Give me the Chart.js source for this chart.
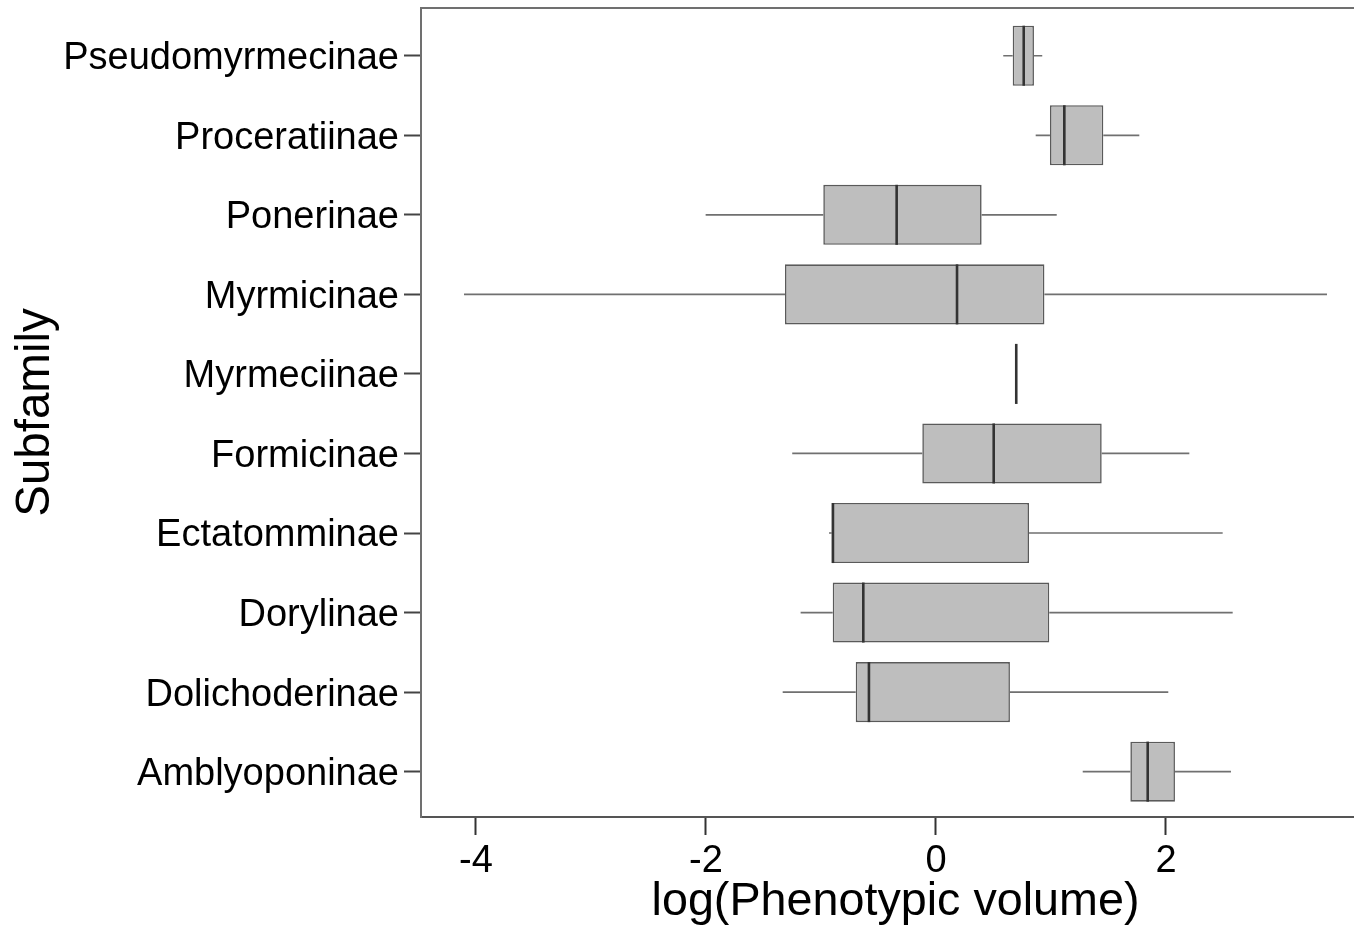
<!DOCTYPE html>
<html>
<head>
<meta charset="utf-8">
<title>Phenotypic volume by subfamily</title>
<script src="https://cdn.jsdelivr.net/npm/chart.js@4.4.1/dist/chart.umd.min.js"></script>
<style>
  html, body { margin: 0; padding: 0; background: #fff; overflow: hidden; }
  #wrap { width: 1354px; height: 930px; overflow: hidden; }
</style>
</head>
<body>
<div id="wrap"><canvas id="boxChart" width="1370" height="930"></canvas></div>
<script>
// subfamilies, top to bottom
const subfamilies = ['Pseudomyrmecinae', 'Proceratiinae', 'Ponerinae', 'Myrmicinae', 'Myrmeciinae',
  'Formicinae', 'Ectatomminae', 'Dorylinae', 'Dolichoderinae', 'Amblyoponinae'];

// five-number summaries of log(phenotypic volume)
const whiskerLow  = [0.585, 0.867, -2.003, -4.104, 0.698, -1.250, -0.930, -1.177, -1.333, 1.276];
const quart1      = [0.667, 0.991, -0.980, -1.313, 0.698, -0.119, -0.907, -0.898, -0.698, 1.690];
const medians     = [0.763, 1.116, -0.342,  0.183, 0.698,  0.502, -0.896, -0.632, -0.583, 1.841];
const quart3      = [0.852, 1.455,  0.397,  0.943, 0.698,  1.441,  0.809,  0.985,  0.643, 2.078];
const whiskerHigh = [0.924, 1.768,  1.050,  3.400, 0.698,  2.203,  2.493,  2.580,  2.020, 2.565];

const xTicks = [-4, -2, 0, 2];

const FONT = '"Liberation Sans", Arial, Helvetica, sans-serif';

// whiskers behind the boxes, medians on top, plus the top frame line
const boxParts = {
  id: 'boxParts',
  beforeDatasetsDraw(chart) {
    const { ctx, scales: { x, y } } = chart;
    ctx.save();
    ctx.strokeStyle = '#707070';
    ctx.lineWidth = 1.7;
    subfamilies.forEach((name, i) => {
      const py = y.getPixelForValue(i + 1);
      ctx.beginPath();
      ctx.moveTo(x.getPixelForValue(whiskerLow[i]), py);
      ctx.lineTo(x.getPixelForValue(quart1[i]), py);
      ctx.moveTo(x.getPixelForValue(quart3[i]), py);
      ctx.lineTo(x.getPixelForValue(whiskerHigh[i]), py);
      ctx.stroke();
    });
    ctx.restore();
  },
  afterDatasetsDraw(chart) {
    const { ctx, scales: { x }, chartArea } = chart;
    const meta = chart.getDatasetMeta(0);
    ctx.save();
    ctx.strokeStyle = '#333';
    ctx.lineWidth = 2.6;
    meta.data.forEach((bar, i) => {
      const px = x.getPixelForValue(medians[i]);
      const half = bar.height / 2;
      ctx.beginPath();
      ctx.moveTo(px, bar.y - half);
      ctx.lineTo(px, bar.y + half);
      ctx.stroke();
    });
    ctx.strokeStyle = '#707070';
    ctx.lineWidth = 2;
    ctx.beginPath();
    ctx.moveTo(chartArea.left, chartArea.top);
    ctx.lineTo(chartArea.right, chartArea.top);
    ctx.stroke();
    ctx.restore();
  }
};

new Chart(document.getElementById('boxChart'), {
  type: 'bar',
  data: {
    datasets: [{
      data: subfamilies.map((name, i) => ({ x: [quart1[i], quart3[i]], y: i + 1 })),
      backgroundColor: '#bebebe',
      borderColor: '#5a5a5a',
      borderWidth: 1.6,
      borderSkipped: false,
      barPercentage: 0.755,
      categoryPercentage: 1
    }]
  },
  plugins: [boxParts],
  options: {
    indexAxis: 'y',
    responsive: false,
    animation: false,
    layout: { padding: { top: 8, right: 0, left: 0, bottom: 0 } },
    plugins: {
      legend: { display: false },
      tooltip: { enabled: false }
    },
    scales: {
      x: {
        type: 'linear',
        offset: false,
        min: -4.478,
        max: 3.774,
        afterBuildTicks(scale) {
          scale.ticks = xTicks.map(v => ({ value: v }));
        },
        afterFit(scale) {
          scale.height = 113;
          scale.paddingLeft = 0;
          scale.paddingRight = 0;
        },
        grid: {
          offset: false,
          drawOnChartArea: false,
          tickLength: 18,
          tickColor: '#333',
          tickWidth: 2
        },
        border: { color: '#555', width: 2 },
        ticks: {
          color: '#000',
          padding: 4,
          font: { family: FONT, size: 38 }
        },
        title: {
          display: true,
          text: 'log(Phenotypic volume)',
          color: '#000',
          padding: { top: 2, bottom: 0 },
          font: { family: FONT, size: 46.7 }
        }
      },
      y: {
        type: 'linear',
        offset: false,
        reverse: true,
        min: 0.4,
        max: 10.57,
        afterBuildTicks(scale) {
          scale.ticks = subfamilies.map((name, i) => ({ value: i + 1 }));
        },
        afterFit(scale) {
          scale.width = 421;
          scale.paddingTop = 0;
          scale.paddingBottom = 0;
        },
        grid: {
          offset: false,
          drawOnChartArea: false,
          tickLength: 17,
          tickColor: '#444',
          tickWidth: 2
        },
        border: { color: '#707070', width: 2 },
        ticks: {
          color: '#000',
          padding: 5,
          labelOffset: 3,
          font: { family: FONT, size: 38 },
          callback: value => subfamilies[value - 1] || ''
        },
        title: {
          display: true,
          text: 'Subfamily',
          color: '#000',
          padding: { top: 7, bottom: 0 },
          font: { family: FONT, size: 47.5 }
        }
      }
    }
  }
});
</script>
</body>
</html>
